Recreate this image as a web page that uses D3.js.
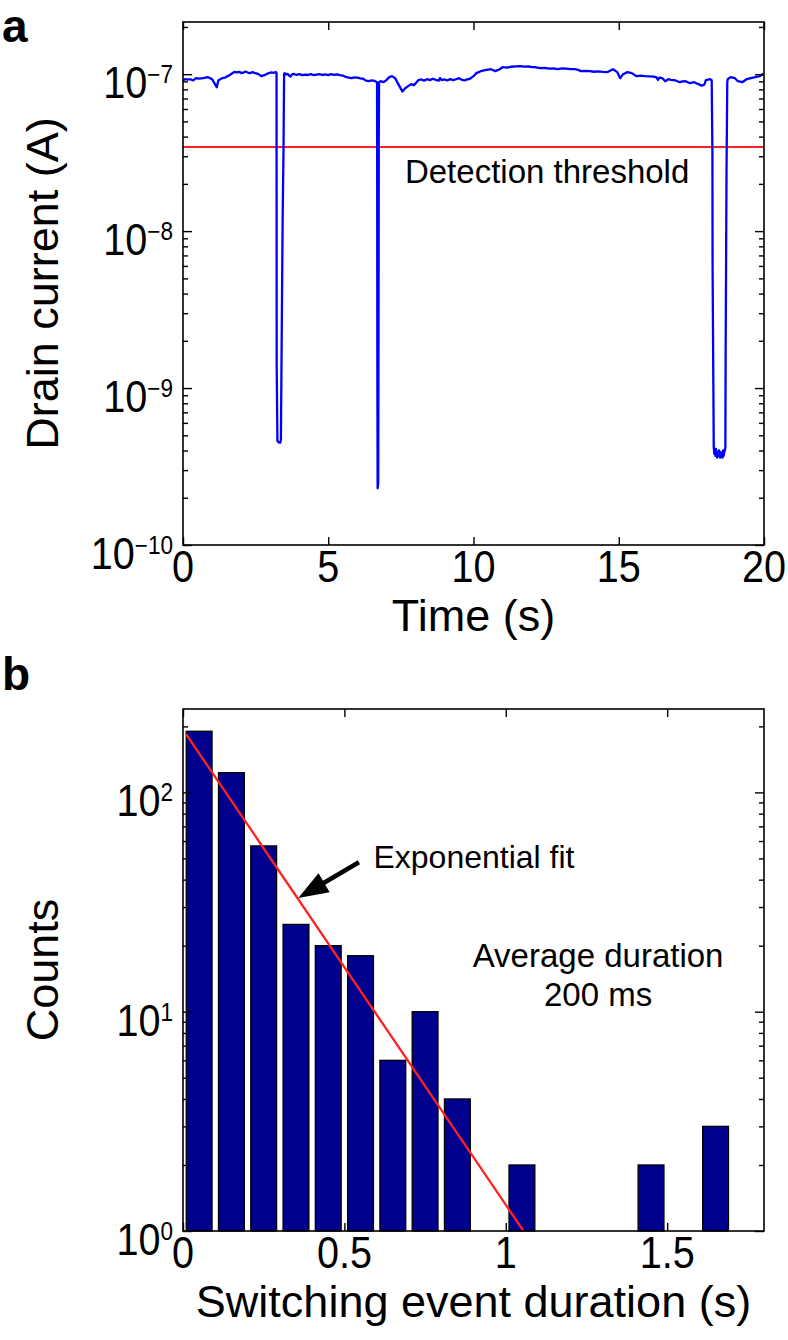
<!DOCTYPE html>
<html><head><meta charset="utf-8">
<script src="https://cdn.jsdelivr.net/npm/d3@7"></script>
<style>
body{margin:0;background:#fff}
svg{display:block}
text{font-family:"Liberation Sans",Arial,Helvetica,sans-serif;fill:#000}
</style>
</head><body>
<svg id="chart" width="788" height="1340"></svg>
<script>
// ---------- Panel a data: drain current trace (time in s, current in nA) ----------
const traceTime = [
  0.00,0.08,0.15,0.25,0.35,0.45,0.55,0.70,0.85,0.95,1.00,1.10,1.16,1.22,1.35,1.45,1.50,1.60,1.70,1.78,1.85,1.95,2.00,2.10,2.15,2.25,2.30,2.40,2.45,2.55,2.60,2.70,2.80,2.90,2.95,3.05,3.10,3.20,
  3.220,3.225,3.25,3.30,3.35,3.37,3.40,3.43,3.46,3.48,
  3.50,3.55,3.60,3.65,3.70,3.75,3.80,3.90,4.00,4.10,4.20,4.30,4.40,4.50,4.60,4.70,4.80,4.90,5.00,5.10,5.20,5.30,5.40,5.50,5.60,5.70,5.80,5.90,6.00,6.10,6.20,6.30,6.40,6.50,6.60,6.68,
  6.685,6.69,6.70,6.72,6.73,6.74,6.75,
  6.80,6.90,7.00,7.10,7.20,7.30,7.45,7.55,7.65,7.75,7.85,7.95,
  8.10,8.20,8.30,8.40,8.50,8.60,8.70,8.80,8.85,8.90,9.00,9.10,9.20,9.30,9.40,9.50,9.60,9.70,9.80,9.85,
  10.00,10.10,10.25,10.40,10.50,10.60,10.70,10.75,10.85,10.90,11.00,11.15,11.30,11.45,11.60,11.75,11.90,12.00,12.10,12.20,12.30,12.45,12.60,12.75,12.90,13.05,13.20,13.35,13.50,13.60,13.70,13.85,14.00,14.15,14.30,14.45,14.60,
  14.80,14.95,15.05,15.15,
  15.30,15.45,15.60,15.75,15.90,16.05,16.20,16.30,16.35,16.40,16.50,16.60,16.70,16.80,16.90,17.00,17.10,17.20,17.30,17.45,17.60,17.70,17.75,17.85,17.90,17.95,18.00,18.15,18.20,
  18.225,18.23,18.27,18.29,18.31,18.33,18.35,18.37,18.39,18.41,18.43,18.45,18.47,18.49,18.51,18.53,18.55,18.57,18.59,18.61,18.63,18.65,
  18.67,18.68,18.71,18.735,
  18.75,18.85,19.00,19.10,19.25,19.40,19.55,19.70,19.85,19.95,20.00
];
const traceCurrentNA = [
  91.6,93.0,92.2,92.9,91.2,94.3,93.6,94.5,95.7,94.0,92.9,86.4,82.6,91.6,94.3,95.0,96.5,98.5,101.5,103.5,102.5,103.5,101.5,102.8,104.0,102.0,101.5,103.0,102.0,100.8,100.0,97.1,98.5,100.5,101.5,102.5,102.0,103.0,
  101.5,1.4,0.46,0.45,0.45,0.47,2.4,12.0,33.0,100.0,
  101.5,99.5,100.5,98.0,96.5,99.5,100.5,99.0,100.0,98.5,99.5,98.8,100.0,98.5,99.5,100.2,98.8,99.6,98.5,100.0,99.0,99.8,98.5,98.0,96.0,95.2,94.3,95.5,95.0,94.0,93.5,91.0,90.2,91.2,90.5,88.9,
  20.0,1.5,0.23,0.25,2.0,40.0,89.0,
  90.2,88.9,91.6,95.7,97.1,94.3,83.9,77.5,81.4,83.9,86.4,85.1,
  91.6,92.5,91.0,92.9,91.6,93.5,92.0,91.0,94.5,91.6,92.5,91.2,93.0,91.6,92.8,94.3,92.0,91.2,93.0,92.9,
  97.1,101.5,104.5,106.0,107.0,107.6,105.5,104.5,106.5,107.6,110.8,110.2,111.5,112.0,112.4,111.6,112.0,111.0,110.8,110.0,109.2,109.8,108.5,109.0,107.6,108.8,108.5,107.8,107.6,106.5,104.5,105.0,104.5,103.6,104.2,103.5,103.0,
  107.6,103.0,94.3,100.0,
  103.0,101.5,97.1,97.8,97.1,96.8,96.4,95.5,92.0,95.0,94.3,90.2,92.9,92.0,91.6,90.5,88.9,90.0,90.2,87.6,88.9,87.0,86.4,84.5,85.1,86.0,91.6,92.9,91.6,
  30.0,6.0,0.42,0.38,0.40,0.37,0.41,0.38,0.36,0.39,0.37,0.40,0.38,0.36,0.39,0.37,0.38,0.36,0.40,0.37,0.39,0.40,
  0.42,1.7,24.0,88.0,
  92.9,95.7,94.3,90.2,88.9,92.9,94.3,95.7,97.1,100.0,98.5
];
const thresholdA = 3.43e-8;
const timeTicks = [0, 5, 10, 15, 20];
const currentTickExps = [-10, -9, -8, -7];
const timeDomain = [0, 20];
const currentDomain = [1e-10, 2.15e-7];

// ---------- Panel b data: histogram of switching durations ----------
const binCenters = [0.05,0.15,0.25,0.35,0.45,0.55,0.65,0.75,0.85,1.05,1.45,1.65];
const binCounts  = [190, 123, 57, 25, 20, 18, 6, 10, 4, 2, 2, 3];
const binWidth = 0.08;
const fitDuration = [0.01, 1.055];
const fitCounts = [184, 1];
const durationTicks = [0, 0.5, 1, 1.5];
const countTickExps = [0, 1, 2];
const durationDomain = [0, 1.8];
const countDomain = [1, 240];

if (traceTime.length !== traceCurrentNA.length) console.error("trace length mismatch", traceTime.length, traceCurrentNA.length);

// ---------- layout ----------
const L = 183, R = 764;
const A = {top: 22, bottom: 545};
const B = {top: 709, bottom: 1231};
const FS = 44, SUP = 25, TLX = 0.9, AX = 45;

const svg = d3.select("#chart");

const xA = d3.scaleLinear(timeDomain, [L, R]);
const yA = d3.scaleLog(currentDomain, [A.bottom, A.top]);
const xB = d3.scaleLinear(durationDomain, [L, R]);
const yB = d3.scaleLog(countDomain, [B.bottom, B.top]);

function minorLog(domain) {
  const out = [];
  const e0 = Math.floor(Math.log10(domain[0])), e1 = Math.ceil(Math.log10(domain[1]));
  for (let e = e0; e <= e1; e++) for (let k = 2; k <= 9; k++) {
    const v = k * Math.pow(10, e);
    if (v > domain[0] && v < domain[1]) out.push(v);
  }
  return out;
}

function drawAxes(x, y, box, xTicks, yMajor, yMinor) {
  const g = svg.append("g");
  const strip = s => s.call(a => a.select(".domain").remove());
  g.append("g").attr("transform", `translate(0,${box.bottom})`)
    .call(d3.axisBottom(x).tickValues(xTicks).tickSize(-8).tickFormat("")).call(strip);
  g.append("g").attr("transform", `translate(0,${box.top})`)
    .call(d3.axisTop(x).tickValues(xTicks).tickSize(-8).tickFormat("")).call(strip);
  g.append("g").attr("transform", `translate(${L},0)`)
    .call(d3.axisLeft(y).tickValues(yMajor).tickSize(-9).tickFormat("")).call(strip);
  g.append("g").attr("transform", `translate(${R},0)`)
    .call(d3.axisRight(y).tickValues(yMajor).tickSize(-9).tickFormat("")).call(strip);
  g.append("g").attr("transform", `translate(${L},0)`)
    .call(d3.axisLeft(y).tickValues(yMinor).tickSize(-5).tickFormat("")).call(strip);
  g.append("g").attr("transform", `translate(${R},0)`)
    .call(d3.axisRight(y).tickValues(yMinor).tickSize(-5).tickFormat("")).call(strip);
  g.selectAll(".tick line").attr("stroke", "#000").attr("stroke-width", 1.4);
  g.append("rect").attr("x", L).attr("y", box.top).attr("width", R - L).attr("height", box.bottom - box.top)
    .attr("fill", "none").attr("stroke", "#000").attr("stroke-width", 1.6);
}

function yPowLabels(y, exps) {
  exps.forEach(e => {
    const t = svg.append("text")
      .attr("transform", `translate(173,${y(Math.pow(10, e)) + 24}) scale(${TLX},1)`)
      .attr("text-anchor", "end").attr("font-size", FS);
    t.append("tspan").text("10");
    t.append("tspan").attr("font-size", SUP).attr("dy", -15).text(e < 0 ? "\u2212" + (-e) : String(e));
  });
}

function xLabels(x, ticks, base) {
  svg.append("g").selectAll("text").data(ticks).join("text")
    .attr("transform", d => `translate(${x(d)},${base + 37}) scale(${TLX},1)`)
    .attr("text-anchor", "middle").attr("font-size", FS).text(d => d);
}

// ---------- Panel a ----------
svg.append("clipPath").attr("id", "clipA").append("rect")
  .attr("x", L).attr("y", A.top).attr("width", R - L).attr("height", A.bottom - A.top);

svg.append("line")
  .attr("x1", xA(timeDomain[0])).attr("x2", xA(timeDomain[1]))
  .attr("y1", yA(thresholdA)).attr("y2", yA(thresholdA))
  .attr("stroke", "#ff2020").attr("stroke-width", 2);

const trace = traceTime.map((t, i) => [t, traceCurrentNA[i] * 1e-9]);
svg.append("path").datum(trace)
  .attr("clip-path", "url(#clipA)")
  .attr("fill", "none").attr("stroke", "#0000ff").attr("stroke-width", 2.3)
  .attr("stroke-linejoin", "round")
  .attr("d", d3.line().x(d => xA(d[0])).y(d => yA(d[1])));

drawAxes(xA, yA, A, timeTicks, currentTickExps.map(e => Math.pow(10, e)), minorLog(currentDomain));
yPowLabels(yA, currentTickExps);
xLabels(xA, timeTicks, A.bottom);

svg.append("text").attr("x", xA(7.64)).attr("y", yA(2.02e-8)).attr("font-size", 33).text("Detection threshold");
svg.append("text").attr("x", (L + R) / 2).attr("y", A.bottom + 86).attr("text-anchor", "middle")
  .attr("font-size", AX).text("Time (s)");
svg.append("text").attr("transform", `translate(58,${(A.top + A.bottom) / 2}) rotate(-90)`)
  .attr("text-anchor", "middle").attr("font-size", AX).text("Drain current (A)");
svg.append("text").attr("x", 2).attr("y", 42).attr("font-size", 46).attr("font-weight", "bold").text("a");

// ---------- Panel b ----------
svg.append("g").selectAll("rect").data(binCenters).join("rect")
  .attr("x", d => xB(d - binWidth / 2))
  .attr("width", xB(binWidth) - xB(0))
  .attr("y", (d, i) => yB(binCounts[i]))
  .attr("height", (d, i) => yB(countDomain[0]) - yB(binCounts[i]))
  .attr("fill", "#00008f").attr("stroke", "#000").attr("stroke-width", 1.3);

svg.append("path").datum(fitDuration.map((d, i) => [d, fitCounts[i]]))
  .attr("fill", "none").attr("stroke", "#ff2020").attr("stroke-width", 2.3)
  .attr("d", d3.line().x(d => xB(d[0])).y(d => yB(d[1])));

drawAxes(xB, yB, B, durationTicks, countTickExps.map(e => Math.pow(10, e)), minorLog(countDomain));
yPowLabels(yB, countTickExps);
xLabels(xB, durationTicks, B.bottom);

// arrow annotation (data coordinates)
const arrowTail = [0.545, 48], arrowTip = [0.357, 33];
{
  const x0 = xB(arrowTail[0]), y0 = yB(arrowTail[1]), x1 = xB(arrowTip[0]), y1 = yB(arrowTip[1]);
  const dx = x1 - x0, dy = y1 - y0, len = Math.hypot(dx, dy), ux = dx / len, uy = dy / len;
  const hl = 30, hw = 11;
  const bx = x1 - ux * hl, by = y1 - uy * hl;
  svg.append("line").attr("x1", x0).attr("y1", y0).attr("x2", bx + ux * 2).attr("y2", by + uy * 2)
    .attr("stroke", "#000").attr("stroke-width", 4.5);
  svg.append("path").attr("fill", "#000")
    .attr("d", `M${x1},${y1}L${bx - uy * hw},${by + ux * hw}L${bx + uy * hw},${by - ux * hw}Z`);
}
svg.append("text").attr("x", xB(0.59)).attr("y", yB(45.2)).attr("font-size", 32).text("Exponential fit");
svg.append("text").attr("x", xB(1.286)).attr("y", yB(16)).attr("text-anchor", "middle").attr("font-size", 33).text("Average duration");
svg.append("text").attr("x", xB(1.286)).attr("y", yB(10.6)).attr("text-anchor", "middle").attr("font-size", 33).text("200 ms");

svg.append("text").attr("x", (L + R) / 2).attr("y", B.bottom + 86).attr("text-anchor", "middle")
  .attr("font-size", AX).text("Switching event duration (s)");
svg.append("text").attr("transform", `translate(58,${(B.top + B.bottom) / 2}) rotate(-90)`)
  .attr("text-anchor", "middle").attr("font-size", AX).text("Counts");
svg.append("text").attr("x", 2).attr("y", 690).attr("font-size", 46).attr("font-weight", "bold").text("b");
</script>
</body></html>
